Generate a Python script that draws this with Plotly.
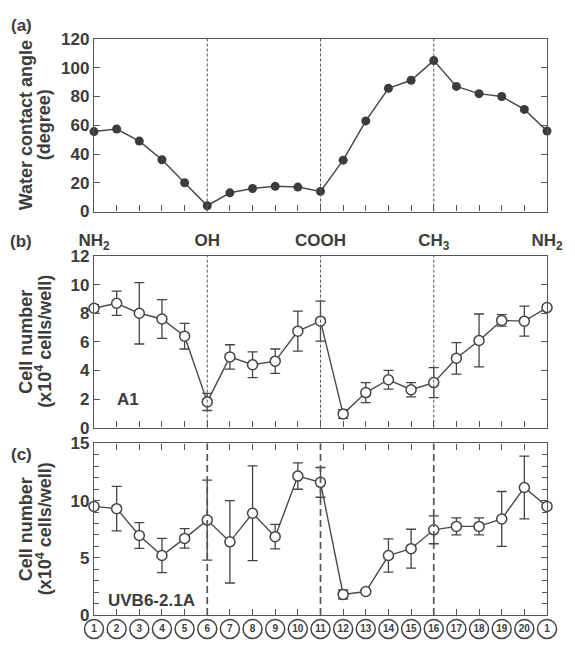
import plotly.graph_objects as go

# ---------------- data ----------------
sites = list(range(1, 22))
site_numbers = ["1", "2", "3", "4", "5", "6", "7", "8", "9", "10", "11",
                "12", "13", "14", "15", "16", "17", "18", "19", "20", "1"]
group_positions = [1, 6, 11, 16, 21]
group_labels = ["NH<sub>2</sub>", "OH", "COOH", "CH<sub>3</sub>", "NH<sub>2</sub>"]
divider_positions = [6, 11, 16]

contact_angle = [55.6, 57.4, 49, 36, 20, 4, 13, 16, 17.5, 17, 14,
                 35.7, 63, 85.7, 91.3, 105, 87, 82, 80, 71, 56]

a1_mean = [8.35, 8.7, 8.0, 7.6, 6.4, 1.8, 4.95, 4.4, 4.65, 6.75, 7.45,
           0.95, 2.45, 3.35, 2.65, 3.15, 4.85, 6.1, 7.5, 7.45, 8.4]
a1_sd = [0.25, 0.85, 2.15, 1.35, 0.9, 0.6, 0.85, 0.9, 0.85, 1.4, 1.4,
         0.3, 0.7, 0.65, 0.5, 1.05, 1.1, 1.85, 0.4, 1.05, 0.2]

uvb_mean = [9.5, 9.3, 6.95, 5.2, 6.7, 8.3, 6.4, 8.9, 6.85, 12.15, 11.6,
            1.8, 2.05, 5.2, 5.8, 7.45, 7.75, 7.75, 8.4, 11.15, 9.5]
uvb_sd = [0.15, 1.95, 1.13, 1.5, 0.85, 3.5, 3.6, 4.15, 1.07, 1.15, 1.3,
          0.4, 0.1, 1.45, 1.7, 1.22, 0.75, 0.75, 2.4, 2.75, 0.15]

# ---------------- style ----------------
INK = "#3c3c3c"
FONT = "Liberation Sans, Arial, sans-serif"
W, H = 575, 646
ML, MR, MT, MB = 94, 14, 39, 26
PH = H - MT - MB
X_RANGE = [sites[0], sites[-1]]


def py(px):
    """pixel y (from top) -> paper y"""
    return 1 - (px - MT) / PH


fig = go.Figure()

# (a) water contact angle
fig.add_trace(go.Scatter(
    x=sites, y=contact_angle, mode="lines+markers", xaxis="x", yaxis="y",
    line=dict(color="#4a4a4a", width=1.5),
    marker=dict(size=9, color="#3c3c3c", line=dict(width=0)),
    cliponaxis=False, showlegend=False))

# (b) A1
fig.add_trace(go.Scatter(
    x=sites, y=a1_mean, mode="lines+markers", xaxis="x2", yaxis="y2",
    error_y=dict(type="data", array=a1_sd, visible=True, color="#444",
                 thickness=1.3, width=5),
    line=dict(color="#4a4a4a", width=1.4),
    marker=dict(size=10, color="white", line=dict(width=1.5, color="#444")),
    cliponaxis=False, showlegend=False))

# (c) UVB6-2.1A
fig.add_trace(go.Scatter(
    x=sites, y=uvb_mean, mode="lines+markers", xaxis="x3", yaxis="y3",
    error_y=dict(type="data", array=uvb_sd, visible=True, color="#444",
                 thickness=1.3, width=5),
    line=dict(color="#4a4a4a", width=1.4),
    marker=dict(size=10, color="white", line=dict(width=1.5, color="#444")),
    cliponaxis=False, showlegend=False))

dom_a = [py(213), 1.0]
dom_b = [py(431), py(258)]
dom_c = [0.0, py(447)]

tickfont = dict(family=FONT, size=17, color=INK, weight="bold")
common_x = dict(range=X_RANGE, showgrid=False, zeroline=False, showline=True,
                linecolor="#555", linewidth=1.3, ticks="inside", ticklen=6,
                tickcolor="#555", tickwidth=1.2)
common_y = dict(showgrid=False, zeroline=False, showline=True, linecolor="#555",
                linewidth=1.3, ticks="inside", ticklen=6, tickcolor="#555",
                tickwidth=1.2, mirror="ticks", tickfont=tickfont)

top_text = []
for s in sites:
    top_text.append(group_labels[group_positions.index(s)] if s in group_positions else "")

fig.update_layout(
    width=W, height=H, margin=dict(l=ML, r=MR, t=MT, b=MB),
    paper_bgcolor="white", plot_bgcolor="white",
    font=dict(family=FONT, color=INK),
    xaxis=dict(**common_x, domain=[0, 1], anchor="y", mirror=True,
               tickvals=sites, ticktext=top_text, tickfont=tickfont,
               ticklabelstandoff=13, ticklabeloverflow="allow"),
    yaxis=dict(**common_y, domain=dom_a, anchor="x", range=[0, 120],
               tickvals=[0, 20, 40, 60, 80, 100, 120]),
    xaxis2=dict(**common_x, domain=[0, 1], anchor="y2", mirror=True,
                tickvals=sites, showticklabels=False),
    yaxis2=dict(**common_y, domain=dom_b, anchor="x2", range=[0, 12],
                tickvals=[0, 2, 4, 6, 8, 10, 12]),
    xaxis3=dict(**common_x, domain=[0, 1], anchor="y3", mirror="ticks",
                tickvals=sites, ticktext=site_numbers, ticklabelstandoff=4,
                ticklabeloverflow="allow",
                tickfont=dict(family=FONT, size=10, color=INK, weight="bold")),
    yaxis3=dict(**common_y, domain=dom_c, anchor="x3", range=[0, 15],
                tickvals=[0, 5, 10, 15],
                minor=dict(dtick=1, tick0=0, ticks="inside", ticklen=5,
                           tickcolor="#555", tickwidth=1.1)),
)

# vertical dividers
for xr, yr, dash, w in [("x", "y", "3px,2px", 1.0), ("x2", "y2", "3px,2px", 1.0),
                        ("x3", "y3", "7px,4px", 1.7)]:
    for d in divider_positions:
        fig.add_shape(type="line", xref=xr, yref=f"{yr} domain", x0=d, x1=d,
                      y0=0, y1=1, line=dict(color="#555", width=w, dash=dash))

# circles around the site numbers (pixel-sized, anchored at each site tick)
for s in sites:
    frac = (s - X_RANGE[0]) / (X_RANGE[1] - X_RANGE[0])
    fig.add_shape(type="circle", xref="x3 domain", yref="paper",
                  xsizemode="pixel", ysizemode="pixel",
                  xanchor=frac, yanchor=py(634), x0=-9.5, x1=9.5, y0=-9.5, y1=9.5,
                  line=dict(color="#444", width=1.5))

annotations = []
# panel letters
for letter, ypix in [("(a)", 25), ("(b)", 243), ("(c)", 458)]:
    annotations.append(dict(text=letter, xref="paper", yref="paper", x=0,
                            xshift=21 - ML, y=py(ypix), showarrow=False,
                            xanchor="center", yanchor="middle",
                            font=dict(size=17, color=INK, family=FONT, weight="bold")))

# y axis titles (two lines each)
title_font = dict(size=18, color=INK, family=FONT, weight="bold")
for dom, l1, l2 in [(dom_a, "Water contact angle", "(degree)"),
                    (dom_b, "Cell number", "(x10<sup>4</sup> cells/well)"),
                    (dom_c, "Cell number", "(x10<sup>4</sup> cells/well)")]:
    yc = (dom[0] + dom[1]) / 2
    for txt, xs in [(l1, 26 - ML), (l2, 44 - ML)]:
        annotations.append(dict(text=txt, xref="paper", yref="paper", x=0,
                                xshift=xs, y=yc, textangle=-90, showarrow=False,
                                xanchor="center", yanchor="middle",
                                font=title_font))

# cell line labels
annotations.append(dict(text="A1", xref="x2", yref="y2", x=2.5, y=1.95,
                        showarrow=False, xanchor="center", yanchor="middle",
                        font=dict(size=17, color=INK, family=FONT, weight="bold")))
annotations.append(dict(text="UVB6-2.1A", xref="x3", yref="y3", x=3.55,
                        y=1.3, showarrow=False, xanchor="center",
                        yanchor="middle",
                        font=dict(size=17, color=INK, family=FONT, weight="bold")))

fig.update_layout(annotations=annotations)

fig.write_html("out.html")
